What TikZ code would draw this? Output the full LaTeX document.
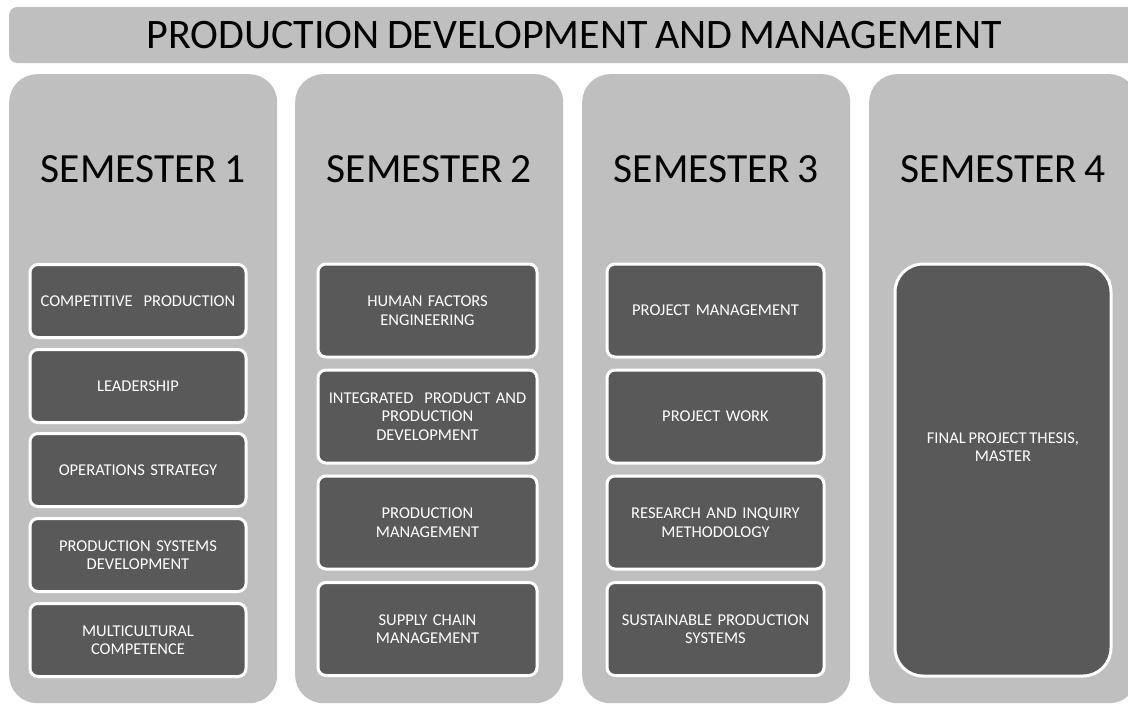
\documentclass[tikz,border=0pt]{standalone}
\usepackage{fontspec}
\setmainfont{Carlito}[WordSpace=0.75]
\usetikzlibrary{positioning}
\definecolor{panelG}{RGB}{191,191,191}
\definecolor{courseD}{RGB}{89,89,89}

\begin{document}
\begin{tikzpicture}[x=1pt, y=-1pt]
  \useasboundingbox (0,0) rectangle (1128,704);
  \clip (0,0) rectangle (1128,704);
  \tikzset{
    panel/.style={fill=panelG, rounded corners=28pt, inner sep=0pt,
                  minimum width=268pt, minimum height=629pt, anchor=north west},
    course/.style={draw=white, line width=3pt, fill=courseD, rounded corners=8pt,
                   text=white, align=center, inner xsep=3pt, inner ysep=2pt,
                   font=\fontsize{16.5}{18.5}\selectfont, text width=#1},
    course/.default=210pt,
    semhead/.style={font=\fontsize{41.5}{44}\selectfont}
  }

  % title bar
  \node[fill=panelG, rounded corners=8pt, minimum width=1130pt, minimum height=56pt,
        anchor=west, font=\fontsize{42}{44}\selectfont] (title) at (9,35)
        {PRODUCTION DEVELOPMENT AND MANAGEMENT};

  % semester panels
  \foreach \i/\x in {1/9, 2/295, 3/582, 4/869}{
    \node[panel] (sem\i) at (\x,74) {};
    \node[semhead] (head\i) at ({\x+134},169) {SEMESTER\,\i};
  }

  % semester 1
  \foreach \n/\y/\t in {a/301/{COMPETITIVE\ \ PRODUCTION}, b/386/{LEADERSHIP},
      c/470/{OPERATIONS STRATEGY}, d/555/{PRODUCTION SYSTEMS\\DEVELOPMENT},
      e/640/{MULTICULTURAL\\COMPETENCE}}
    \node[course=210pt, minimum height=73pt] (one\n) at (138,\y) {\t};

  % semester 2
  \foreach \n/\y/\t in {a/310.5/{HUMAN FACTORS\\ENGINEERING},
      b/416.5/{INTEGRATED\ \ PRODUCT AND\\PRODUCTION\\DEVELOPMENT},
      c/522.5/{PRODUCTION\\MANAGEMENT}, d/629/{SUPPLY CHAIN\\MANAGEMENT}}
    \node[course=213pt, minimum height=93pt] (two\n) at (427.5,\y) {\t};

  % semester 3
  \foreach \n/\y/\t in {a/310.5/{PROJECT MANAGEMENT}, b/416.5/{PROJECT WORK},
      c/522.5/{RESEARCH AND INQUIRY\\METHODOLOGY}, d/629/{SUSTAINABLE PRODUCTION\\SYSTEMS}}
    \node[course=211pt, minimum height=93pt] (three\n) at (715.5,\y) {\t};

  % semester 4
  \node[course=210pt, minimum height=412pt, rounded corners=28pt] (four) at (1003,470) {};
  \node[text=white, align=center, font=\fontsize{16.5}{18.5}\selectfont]
       (fourtext) at ([yshift=23pt]four.center) {FINAL PROJECT THESIS,\\MASTER};
\end{tikzpicture}
\end{document}
